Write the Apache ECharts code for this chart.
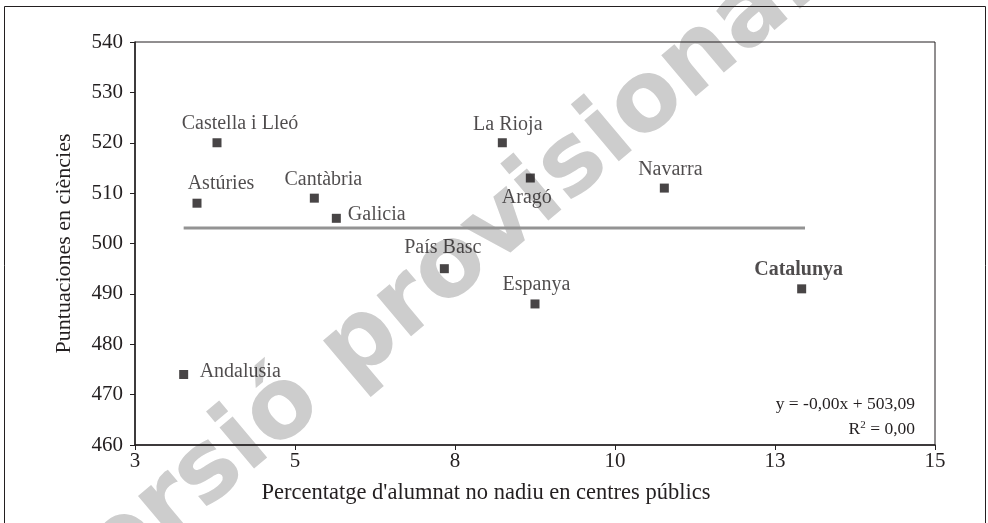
<!DOCTYPE html>
<html>
<head>
<meta charset="utf-8">
<script src="https://cdn.jsdelivr.net/npm/echarts@6/dist/echarts.min.js"></script>
<style>
html,body{margin:0;padding:0;background:#fff;}
#chart{width:988px;height:523px;}
</style>
</head>
<body>
<div id="chart"></div>
<script>
// ---- data ----
var regions = ['Castella i Lleó','Astúries','Cantàbria','Galicia','La Rioja','Aragó','Navarra','País Basc','Espanya','Catalunya','Andalusia'];
var pctNoNadiu = [4.23, 3.93, 5.69, 6.02, 8.51, 8.93, 10.94, 7.64, 9.0, 13.0, 3.73];
var scienceScore = [520, 508, 509, 505, 520, 513, 511, 495, 488, 491, 474];
var trendX = [3.73, 13.05];
var trendIntercept = 503.09;
var xTickValues = [3, 5.4, 7.8, 10.2, 12.6, 15];
var xTickLabels = ['3', '5', '8', '10', '13', '15'];
var xAxisTitle = "Percentatge d'alumnat no nadiu en centres públics";
var yAxisTitle = 'Puntuaciones en ciències';
var equationText = 'y = -0,00x + 503,09';
var r2Text = 'R{sup|2} = 0,00';
var watermarkText = 'Versió provisional';

// ---- label layout (style only) ----
var labelCfg = {
  'Castella i Lleó': {position: 'top', offset: [23, 0]},
  'Astúries': {position: 'top', offset: [24, 0]},
  'Cantàbria': {position: 'top', offset: [9, 1]},
  'Galicia': {position: 'right', offset: [2, -4]},
  'La Rioja': {position: 'top', offset: [5.5, 1]},
  'Aragó': {position: 'bottom', offset: [-3.5, 0]},
  'Navarra': {position: 'top', offset: [6, 1]},
  'País Basc': {position: 'top', offset: [-1.5, -1]},
  'Espanya': {position: 'top', offset: [1.5, 0]},
  'Catalunya': {position: 'top', offset: [-3, 0], fontWeight: 'bold'},
  'Andalusia': {position: 'right', offset: [6.5, -3]}
};

var serif = '"Liberation Serif", "DejaVu Serif", serif';
var textColor = '#231f20';

var points = regions.map(function (name, i) {
  var c = labelCfg[name] || {};
  return {
    name: name,
    value: [pctNoNadiu[i], scienceScore[i]],
    label: {
      show: true,
      formatter: name,
      position: c.position || 'top',
      offset: c.offset || [0, 0],
      fontWeight: c.fontWeight || 'normal'
    }
  };
});

var trendData = trendX.map(function (x) { return [x, trendIntercept]; });

var chart = echarts.init(document.getElementById('chart'), null, {renderer: 'canvas'});
chart.setOption({
  animation: false,
  backgroundColor: '#fff',
  grid: {left: 135, right: 53, top: 42, bottom: 78, show: true, borderColor: '#231f20', borderWidth: 1, backgroundColor: 'transparent'},
  xAxis: {
    type: 'value',
    min: 3, max: 15,
    axisLine: {show: true, onZero: false, lineStyle: {color: '#231f20', width: 1.5}},
    axisTick: {show: true, length: 5, customValues: xTickValues, lineStyle: {color: '#231f20'}},
    axisLabel: {
      customValues: xTickValues,
      fontFamily: serif, fontSize: 21, color: textColor, margin: 6,
      formatter: function (v) {
        var idx = xTickValues.findIndex(function (t) { return Math.abs(t - v) < 1e-6; });
        return idx >= 0 ? xTickLabels[idx] : '';
      }
    },
    splitLine: {show: false}
  },
  yAxis: {
    type: 'value',
    min: 460, max: 540, interval: 10,
    name: yAxisTitle,
    nameLocation: 'middle',
    nameGap: 60,
    nameTextStyle: {fontFamily: serif, fontSize: 22, color: textColor},
    axisLine: {show: true, onZero: false, lineStyle: {color: '#231f20', width: 1.5}},
    axisTick: {show: true, length: 5, lineStyle: {color: '#231f20'}},
    axisLabel: {fontFamily: serif, fontSize: 21, color: textColor, margin: 12},
    splitLine: {show: false}
  },
  graphic: [
    {type: 'rect', shape: {x: 4.5, y: 6.5, width: 981, height: 530}, style: {fill: 'none', stroke: '#231f20', lineWidth: 1}, silent: true, z: 0},
    {type: 'text', x: 424, y: 292, rotation: 0.70, z: -1, silent: true,
      style: {text: watermarkText, fontFamily: '"DejaVu Sans", sans-serif', fontWeight: 'bold', fontSize: 98, fill: '#cdcdcd', align: 'center', verticalAlign: 'middle'}},
    {type: 'text', x: 486, y: 493, silent: true,
      style: {text: xAxisTitle, fontFamily: serif, fontSize: 22.5, fill: textColor, align: 'center', verticalAlign: 'middle'}},
    {type: 'text', x: 915, y: 404, silent: true,
      style: {text: equationText, fontFamily: serif, fontSize: 17.5, fill: textColor, align: 'right', verticalAlign: 'middle'}},
    {type: 'text', x: 915, y: 429, silent: true,
      style: {text: r2Text, fontFamily: serif, fontSize: 17.5, fill: textColor, align: 'right', verticalAlign: 'middle', rich: {sup: {fontSize: 11, verticalAlign: 'top', lineHeight: 12, fontFamily: serif, fill: textColor}}}}
  ],
  series: [
    {
      type: 'line',
      data: trendData,
      symbol: 'none',
      lineStyle: {color: '#939393', width: 3},
      z: 2,
      silent: true
    },
    {
      type: 'scatter',
      data: points,
      symbol: 'rect',
      symbolSize: 9,
      itemStyle: {color: '#1a1718'},
      label: {fontFamily: serif, fontSize: 20, color: textColor},
      z: 3
    }
  ]
});
</script>
</body>
</html>
